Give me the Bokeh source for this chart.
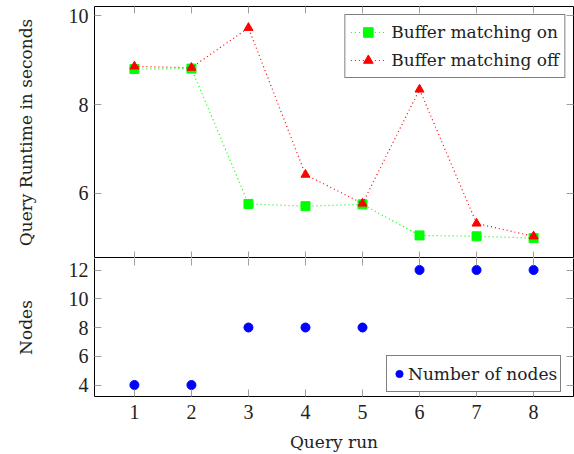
from bokeh.plotting import figure
from bokeh.layouts import column
from bokeh.models import Range1d, LinearAxis, FixedTicker, Legend, LegendItem, ColumnDataSource
from bokeh.embed import file_html
from bokeh.resources import INLINE

# ---- data ----
runs = [1, 2, 3, 4, 5, 6, 7, 8]
buffer_on = [8.80, 8.81, 5.76, 5.71, 5.75, 5.05, 5.03, 4.99]
buffer_off = [8.86, 8.83, 9.73, 6.42, 5.77, 8.34, 5.32, 5.03]
nodes = [4, 4, 8, 8, 8, 12, 12, 12]
runtime_ticks = [6, 8, 10]
node_ticks = [4, 6, 8, 10, 12]

TICK_FONT = "Liberation Serif"
LABEL_FONT = "DejaVu Serif"
TICK_COLOR = "#a0a0a0"
TEXT_COLOR = "#222222"

xr = Range1d(0.3, 8.7)


def style_axis(ax, ticks, show_labels, line=True):
    ax.ticker = FixedTicker(ticks=ticks)
    ax.major_tick_in = 7
    ax.major_tick_out = 0
    ax.minor_tick_line_color = None
    ax.major_tick_line_color = TICK_COLOR
    ax.axis_line_color = "black" if line else None
    ax.major_label_text_font = TICK_FONT
    if show_labels:
        ax.major_label_text_font_size = "20px"
        ax.major_label_text_color = TEXT_COLOR
    else:
        ax.major_label_text_font_size = "1px"
        ax.major_label_text_color = None
        ax.major_label_standoff = 0


def style_label(ax, text, standoff):
    ax.axis_label = text
    ax.axis_label_text_font = LABEL_FONT
    ax.axis_label_text_font_size = "17px"
    ax.axis_label_text_font_style = "normal"
    ax.axis_label_standoff = standoff
    ax.axis_label_text_color = TEXT_COLOR


# ---- top plot ----
p1 = figure(width=574, height=258, x_range=xr, y_range=Range1d(4.53, 10.21),
            output_backend="svg", toolbar_location=None,
            min_border_left=94, min_border_right=1, min_border_top=6, min_border_bottom=0)
p1.grid.visible = False
p1.outline_line_color = "black"

src1 = ColumnDataSource(dict(x=runs, on=buffer_on, off=buffer_off))
l_on = p1.line("x", "on", source=src1, line_color="#00ff00", line_dash="1 3", line_width=1.2)
m_on = p1.scatter("x", "on", source=src1, marker="square", size=9, fill_color="#00ff00", line_color="#00ff00")
l_off = p1.line("x", "off", source=src1, line_color="#ff0000", line_dash="1 3", line_width=1.2)
m_off = p1.scatter("x", "off", source=src1, marker="triangle", size=9, fill_color="#ff0000", line_color="#ff0000")

style_axis(p1.xaxis[0], runs, False, line=False)
style_axis(p1.yaxis[0], runtime_ticks, True, line=False)
p1.yaxis[0].major_label_standoff = 6
style_label(p1.yaxis[0], "Query Runtime in seconds", 30)

ax_top = LinearAxis()
style_axis(ax_top, runs, False, line=False)
p1.add_layout(ax_top, "above")
ax_r1 = LinearAxis()
style_axis(ax_r1, runtime_ticks, False, line=False)
p1.add_layout(ax_r1, "right")

leg1 = Legend(items=[LegendItem(label="Buffer matching on", renderers=[l_on, m_on]),
                     LegendItem(label="Buffer matching off", renderers=[l_off, m_off])],
              location="top_right", margin=8, padding=5, spacing=4,
              glyph_width=35, glyph_height=24, label_height=24, label_standoff=6,
              label_text_font=LABEL_FONT, label_text_font_size="17px",
              label_text_color=TEXT_COLOR,
              border_line_color="black", border_line_width=1, background_fill_alpha=1)
p1.add_layout(leg1, "center")

# ---- bottom plot ----
p2 = figure(width=574, height=196, x_range=xr, y_range=Range1d(3.2, 12.8),
            output_backend="svg", toolbar_location=None,
            min_border_left=94, min_border_right=1, min_border_top=0, min_border_bottom=58)
p2.grid.visible = False
p2.outline_line_color = None

src2 = ColumnDataSource(dict(x=runs, n=nodes))
m_n = p2.scatter("x", "n", source=src2, marker="circle", size=9, fill_color="#0000ff", line_color="#0000ff")

style_axis(p2.xaxis[0], runs, True)
p2.xaxis[0].major_label_standoff = 8
style_label(p2.xaxis[0], "Query run", 10)

style_axis(p2.yaxis[0], node_ticks, True)
p2.yaxis[0].major_label_standoff = 6
style_label(p2.yaxis[0], "Nodes", 30)

ax_top2 = LinearAxis()
style_axis(ax_top2, runs, False, line=False)
p2.add_layout(ax_top2, "above")
ax_r2 = LinearAxis()
style_axis(ax_r2, node_ticks, False)
p2.add_layout(ax_r2, "right")

leg2 = Legend(items=[LegendItem(label="Number of nodes", renderers=[m_n])],
              location=(292, 4), margin=0, padding=3, spacing=0,
              glyph_width=18, glyph_height=29, label_height=29, label_standoff=0,
              label_text_font=LABEL_FONT, label_text_font_size="17px",
              label_text_color=TEXT_COLOR,
              border_line_color="black", border_line_width=1, background_fill_alpha=1)
p2.add_layout(leg2, "center")

layout = column(p1, p2, spacing=0)
open("out.html", "w").write(file_html(layout, INLINE))
